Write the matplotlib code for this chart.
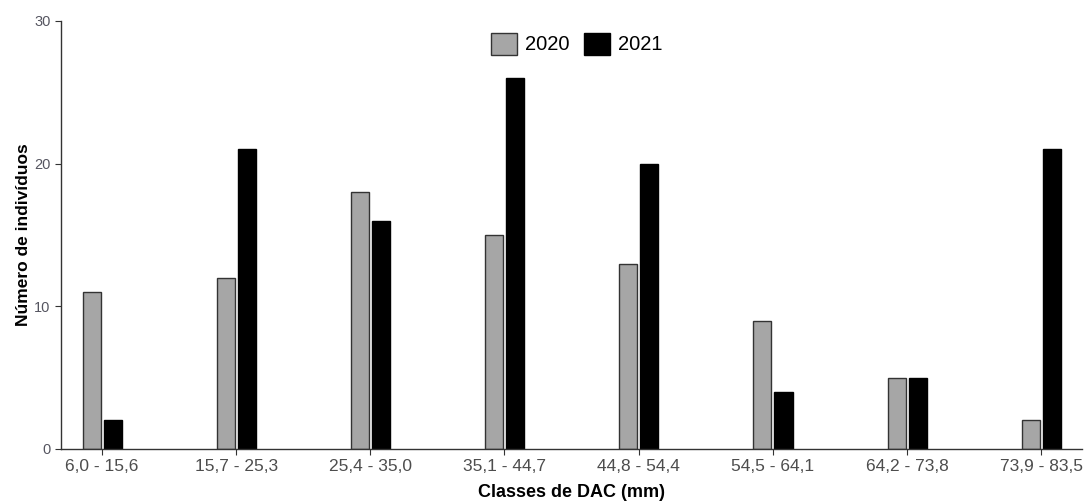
import numpy as np
import matplotlib.pyplot as plt
from matplotlib import font_manager

classes = ['6,0 - 15,6', '15,7 - 25,3', '25,4 - 35,0', '35,1 - 44,7',
           '44,8 - 54,4', '54,5 - 64,1', '64,2 - 73,8', '73,9 - 83,5']
n_2020 = [11, 12, 18, 15, 13, 9, 5, 2]
n_2021 = [2, 21, 16, 26, 20, 4, 5, 21]

names = {f.name for f in font_manager.fontManager.ttflist}
narrow = 'Liberation Sans Narrow' if 'Liberation Sans Narrow' in names else 'Liberation Sans'
plt.rcParams['font.family'] = ['Liberation Sans', 'DejaVu Sans']

fig = plt.figure(figsize=(10.85, 5.03), dpi=100)
ax = fig.add_axes([61 / 1085, 1 - 449 / 503, 1021 / 1085, 428 / 503])

x = np.arange(len(classes))
w = 0.135
ax.bar(x - 0.077, n_2020, w, color='#a6a6a6', edgecolor='#333333', linewidth=1, label='2020')
ax.bar(x + 0.080, n_2021, w, color='#000000', edgecolor='#000000', linewidth=1, label='2021')

ax.set_xlim(-0.305, 7.305)
ax.set_ylim(0, 30)
ax.set_yticks([0, 10, 20, 30])
ax.set_xticks(x)
ax.set_xticklabels(classes, family=[narrow, 'DejaVu Sans'], fontsize=12.5, color='#4d4d4d')
ax.tick_params(axis='y', labelsize=10.5, labelcolor='#555560', color='#333333', length=4)
ax.tick_params(axis='x', color='#333333', length=4)

for s in ['top', 'right']:
    ax.spines[s].set_visible(False)
for s in ['left', 'bottom']:
    ax.spines[s].set_color('#333333')
    ax.spines[s].set_linewidth(1)

ax.set_ylabel('Número de indivíduos', fontsize=12.5, fontweight='bold', labelpad=2)
ax.set_xlabel('Classes de DAC (mm)', fontsize=13, fontweight='bold', labelpad=7,
              family=[narrow, 'DejaVu Sans'])

ax.legend(loc='upper center', bbox_to_anchor=(0.505, 1.015), ncol=2, frameon=False,
          fontsize=14.5, handlelength=1.3, handleheight=1.3, columnspacing=0.7,
          handletextpad=0.4)

fig.savefig('out.png', dpi=100)
